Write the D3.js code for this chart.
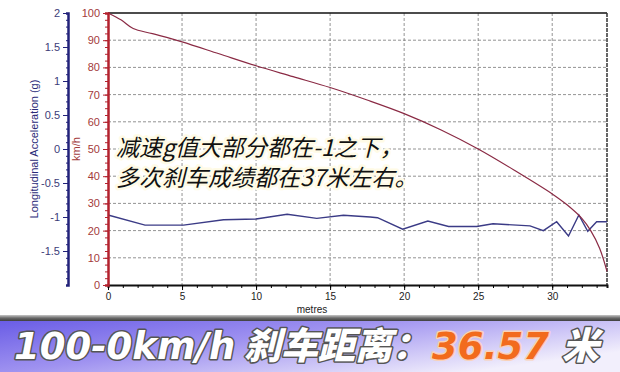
<!DOCTYPE html>
<html>
<head>
<meta charset="utf-8">
<script src="https://cdn.jsdelivr.net/npm/d3@7"></script>
<style>
  body { margin: 0; background: #fff; }
  svg { display: block; }
</style>
</head>
<body>
<div id="chart"></div>
<script>
// speed trace (km/h) against distance (metres)
var speedDist = [0, 0.9, 1.7, 3, 5, 7.5, 10, 12.5, 15, 17.5, 20, 22.5, 25, 27.5, 30, 31, 32, 32.6, 33.2, 33.7];
var speedVals = [100, 97.4, 94.3, 92.4, 89.4, 85, 80.6, 76.6, 72.6, 68, 63, 57, 50, 42, 33.5, 29.5, 24.5, 20, 13.5, 5];
// longitudinal acceleration (g) against distance
var accDist = [0, 2.5, 5.1, 7.8, 10, 12.1, 14.1, 15.9, 17.7, 18.2, 19.9, 21.6, 23, 24.9, 26, 28.5, 29.4, 30.3, 31.1, 31.8, 32.4, 33, 33.7];
var accVals = [-0.97, -1.12, -1.12, -1.04, -1.03, -0.96, -1.02, -0.975, -1.0, -1.01, -1.18, -1.06, -1.14, -1.14, -1.1, -1.13, -1.2, -1.07, -1.28, -0.97, -1.21, -1.07, -1.07];
var xTicks = [0, 5, 10, 15, 20, 25, 30];
var speedTicks = [0, 10, 20, 30, 40, 50, 60, 70, 80, 90, 100];
var accTicks = [-1.5, -1, -0.5, 0, 0.5, 1, 1.5, 2];
var note = ["减速g值大部分都在-1之下，", "多次刹车成绩都在37米左右。"];

var W = 620, H = 372;
var pL = 108, pR = 607, pT = 13, pB = 285;

var svg = d3.select("#chart").append("svg")
    .attr("width", W).attr("height", H);

var x = d3.scaleLinear().domain([0, 33.7]).range([pL, pR]);
var ySpeed = d3.scaleLinear().domain([0, 100]).range([pB, pT]);
var yAcc = d3.scaleLinear().domain([-2, 2]).range([pB, pT]);

var defs = svg.append("defs");
var bg = defs.append("linearGradient").attr("id", "banner")
    .attr("x1", 0).attr("y1", 0).attr("x2", 1).attr("y2", 0.6);
bg.append("stop").attr("offset", "0%").attr("stop-color", "#6a5de6");
bg.append("stop").attr("offset", "45%").attr("stop-color", "#9f92f0");
bg.append("stop").attr("offset", "100%").attr("stop-color", "#f2effc");
var sh = defs.append("linearGradient").attr("id", "shade")
    .attr("x1", 0).attr("y1", 0).attr("x2", 0).attr("y2", 1);
sh.append("stop").attr("offset", "0%").attr("stop-color", "#c8c8c8");
sh.append("stop").attr("offset", "50%").attr("stop-color", "#6a6a6a");
sh.append("stop").attr("offset", "100%").attr("stop-color", "#3e3e3e");

// grid
svg.append("g").selectAll("line").data(speedTicks.slice(1, -1)).enter().append("line")
    .attr("x1", pL).attr("x2", pR)
    .attr("y1", d => ySpeed(d)).attr("y2", d => ySpeed(d))
    .attr("stroke", "#777").attr("stroke-dasharray", "3,2").attr("stroke-width", 0.8);
svg.append("g").selectAll("line").data(xTicks.slice(1)).enter().append("line")
    .attr("x1", d => x(d)).attr("x2", d => x(d))
    .attr("y1", pT).attr("y2", pB)
    .attr("stroke", "#777").attr("stroke-dasharray", "3,2").attr("stroke-width", 0.8);

// frame
svg.append("line").attr("x1", pL).attr("x2", pR).attr("y1", pT).attr("y2", pT)
    .attr("stroke", "#111").attr("stroke-width", 1.5);
svg.append("line").attr("x1", pR).attr("x2", pR).attr("y1", pT).attr("y2", pB)
    .attr("stroke", "#333").attr("stroke-width", 1.5).attr("stroke-dasharray", "4,1");

// note text
var noteG = svg.append("g").attr("font-family", "'Noto Sans CJK SC', sans-serif")
    .attr("font-size", 23).attr("font-style", "italic").attr("fill", "#111");
noteG.selectAll("text").data(note).enter().append("text")
    .attr("x", 116).attr("y", (d, i) => 156 + i * 30)
    .attr("stroke", "#fffbe6").attr("stroke-width", 5).attr("paint-order", "stroke")
    .attr("stroke-linejoin", "round")
    .text(d => d);

// series
svg.append("path")
    .datum(accDist.map((d, i) => [d, accVals[i]]))
    .attr("d", d3.line().x(d => x(d[0])).y(d => yAcc(d[1])))
    .attr("fill", "none").attr("stroke", "#3b3b86").attr("stroke-width", 1.4);
svg.append("path")
    .datum(speedDist.map((d, i) => [d, speedVals[i]]))
    .attr("d", d3.line().curve(d3.curveCatmullRom).x(d => x(d[0])).y(d => ySpeed(d[1])))
    .attr("fill", "none").attr("stroke", "#8a2a44").attr("stroke-width", 1.2);

// x axis
var xg = svg.append("g").attr("transform", "translate(0," + pB + ")")
    .call(d3.axisBottom(x).tickValues(d3.range(0, 34, 1)).tickSize(3).tickFormat(""));
xg.select(".domain").attr("stroke", "#111").attr("stroke-width", 2);
var xg2 = svg.append("g").attr("transform", "translate(0," + pB + ")")
    .call(d3.axisBottom(x).tickValues(xTicks).tickSize(5));
xg2.select(".domain").remove();
xg2.selectAll("text").attr("font-family", "'Liberation Sans', Arial").attr("font-size", 10).attr("fill", "#222");

// speed axis
var sg = svg.append("g").attr("transform", "translate(" + pL + ",0)")
    .call(d3.axisLeft(ySpeed).tickValues(d3.range(0, 101, 2.5)).tickSize(3).tickFormat(""));
sg.select(".domain").attr("stroke", "#b3222e").attr("stroke-width", 2.5);
sg.selectAll(".tick line").attr("stroke", "#b3222e");
var sg2 = svg.append("g").attr("transform", "translate(" + pL + ",0)")
    .call(d3.axisLeft(ySpeed).tickValues(speedTicks).tickSize(5));
sg2.select(".domain").remove();
sg2.selectAll(".tick line").attr("stroke", "#b3222e");
sg2.selectAll("text").attr("font-family", "'Liberation Sans', Arial").attr("font-size", 11).attr("fill", "#a33a3a");
svg.append("text").attr("transform", "translate(80,149) rotate(-90)").attr("text-anchor", "middle")
    .attr("font-family", "'Liberation Sans', Arial").attr("font-size", 11).attr("fill", "#a33a3a")
    .text("km/h");

// acceleration axis
var ag = svg.append("g").attr("transform", "translate(68,0)")
    .call(d3.axisLeft(yAcc).tickValues(d3.range(-2, 2.01, 0.1)).tickSize(2).tickFormat(""));
ag.select(".domain").attr("stroke", "#22227a").attr("stroke-width", 2.5);
ag.selectAll(".tick line").attr("stroke", "#22227a");
var ag2 = svg.append("g").attr("transform", "translate(68,0)")
    .call(d3.axisLeft(yAcc).tickValues(accTicks).tickSize(5).tickFormat(d => String(d)));
ag2.select(".domain").remove();
ag2.selectAll(".tick line").attr("stroke", "#22227a");
ag2.selectAll("text").attr("font-family", "'Liberation Sans', Arial").attr("font-size", 11).attr("fill", "#3c3c78");
svg.append("text").attr("transform", "translate(38,149) rotate(-90)").attr("text-anchor", "middle")
    .attr("font-family", "'Liberation Sans', Arial").attr("font-size", 11).attr("fill", "#2a2a78")
    .text("Longitudinal Acceleration (g)");

// banner
svg.append("rect").attr("x", 0).attr("y", 315).attr("width", W).attr("height", 6).attr("fill", "url(#shade)");
svg.append("rect").attr("x", 0).attr("y", 321).attr("width", W).attr("height", H - 321).attr("fill", "url(#banner)");
svg.append("text").attr("x", 312).attr("y", 313).attr("text-anchor", "middle")
    .attr("font-family", "'Liberation Sans', Arial").attr("font-size", 10).attr("fill", "#222")
    .text("metres");
var bt = svg.append("text").attr("y", 359)
    .attr("font-family", "'DejaVu Sans', 'Noto Sans CJK SC', sans-serif").attr("font-weight", "bold")
    .attr("font-style", "italic").attr("font-size", 37)
    .attr("stroke", "#555").attr("stroke-width", 3).attr("paint-order", "stroke")
    .attr("stroke-linejoin", "round");
bt.append("tspan").attr("x", 14).attr("fill", "#fff").text("100-0km/h");
bt.append("tspan").attr("x", 244).attr("fill", "#fff").attr("font-weight", 900).text("刹车距离：");
bt.append("tspan").attr("x", 432).attr("fill", "#f26b1d").attr("stroke", "#f9d2b8").text("36.57");
bt.append("tspan").attr("x", 562).attr("fill", "#fff").attr("font-weight", 900).text("米");
</script>
</body>
</html>
